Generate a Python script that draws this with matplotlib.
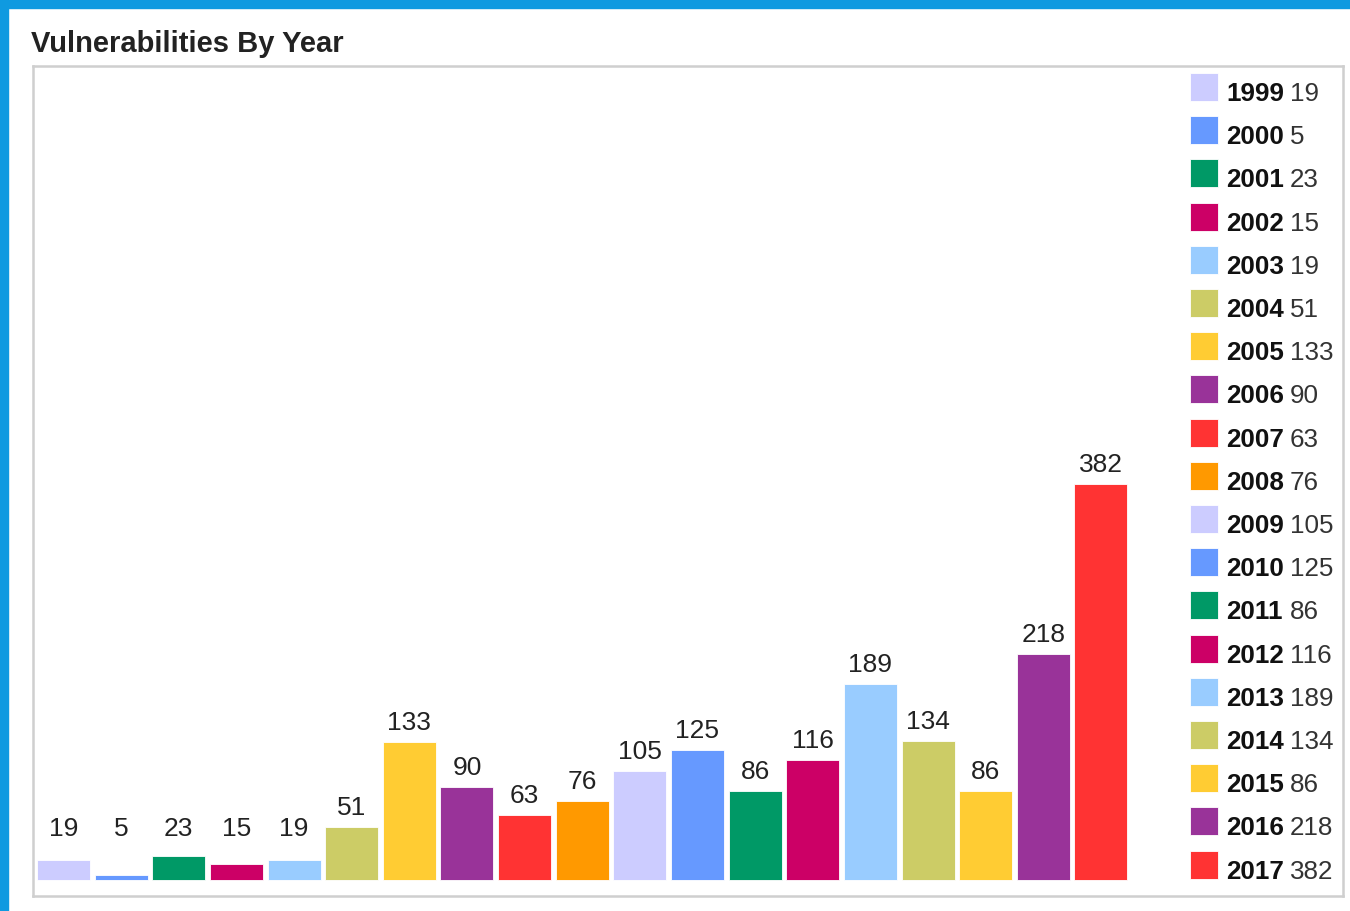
import numpy as np
import matplotlib
matplotlib.use("Agg")
from matplotlib import pyplot as plt
from matplotlib.patches import Rectangle

years = ["1999", "2000", "2001", "2002", "2003", "2004", "2005", "2006", "2007", "2008",
         "2009", "2010", "2011", "2012", "2013", "2014", "2015", "2016", "2017"]
counts = [19, 5, 23, 15, 19, 51, 133, 90, 63, 76,
          105, 125, 86, 116, 189, 134, 86, 218, 382]
palette = ["#ccccff", "#6699ff", "#009966", "#cc0066", "#99ccff",
           "#cccc66", "#ffcc33", "#993399", "#ff3333", "#ff9900"]
colors = [palette[i % len(palette)] for i in range(len(years))]

plt.rcParams['font.family'] = ['Liberation Sans', 'DejaVu Sans']

W, H = 1350, 911
fig = plt.figure(figsize=(W / 100, H / 100), dpi=100)


def fx(px):
    return px / W


def fy(py):
    return 1 - py / H


# blue frame at top and left
fig.patches.append(Rectangle((0, fy(8)), 1, 8 / H, transform=fig.transFigure,
                             color="#0f9ae0", zorder=0))
fig.patches.append(Rectangle((0, 0), 8 / W, 1, transform=fig.transFigure,
                             color="#0f9ae0", zorder=0))

fig.text(fx(31), fy(52), "Vulnerabilities By Year", fontsize=21,
         fontweight="bold", color="#222222", va="baseline", ha="left")

ax = fig.add_axes([fx(33), fy(896), fx(1343) - fx(33), fy(66) - fy(896)])
x = np.arange(len(years))
bars = ax.bar(x, counts, width=0.92, color=colors, edgecolor="white", linewidth=0.6)
# small bars keep their label at a minimum height
for xi, c in zip(x, counts):
    ax.text(xi, max(c, 31) + 11.6, str(c), ha="center", va="baseline",
            fontsize=19, color="#222222")

ax.set_xlim(-0.529, 22.2)
ax.set_ylim(-15.4, 785)
ax.set_xticks([])
ax.set_yticks([])
for s in ax.spines.values():
    s.set_color("#cfcfcf")
    s.set_linewidth(1.8)

# legend drawn by hand: bold year followed by the count
for i, (yr, c, col) in enumerate(zip(years, counts, colors)):
    top = 73 + i * 43.2
    fig.patches.append(Rectangle((fx(1190), fy(top + 28)), 28 / W, 28 / H,
                                 transform=fig.transFigure, facecolor=col,
                                 edgecolor="white", linewidth=0.6))
    fig.text(fx(1226), fy(top + 21), yr, fontsize=18.7, fontweight="bold",
             color="#111111", va="center", ha="left")
    fig.text(fx(1290), fy(top + 21), str(c), fontsize=18.7,
             color="#333333", va="center", ha="left")

fig.savefig("out.png", dpi=100)
